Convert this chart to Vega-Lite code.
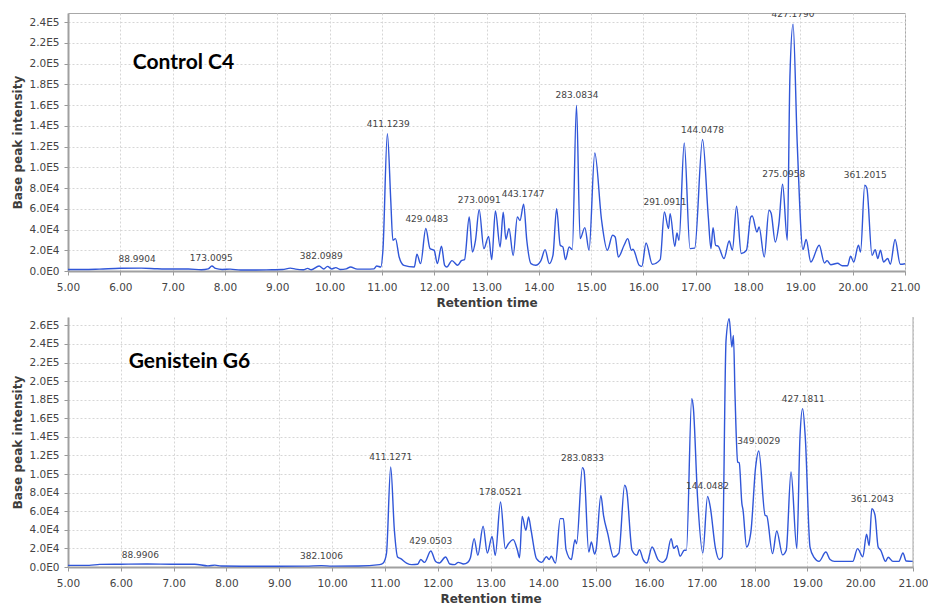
{
  "$schema": "https://vega.github.io/schema/vega-lite/v6.json",
  "background": "white",
  "padding": {"left": 11, "top": 12, "right": 5, "bottom": 2},
  "spacing": 6,
  "config": {
    "view": {"stroke": "#a8a8a8", "strokeWidth": 1},
    "axis": {
      "labelFont": "DejaVu Sans",
      "labelFontSize": 10.5,
      "labelColor": "#444444",
      "labelOverlap": false,
      "labelFlush": false,
      "titleFont": "DejaVu Sans",
      "titleFontSize": 12,
      "titleFontWeight": "bold",
      "titleColor": "#3d3d3d",
      "gridColor": "#d6d6d6",
      "gridDash": [2, 2],
      "gridWidth": 1,
      "domainColor": "#a0a0a0",
      "domainWidth": 2,
      "tickColor": "#999999",
      "tickSize": 4
    },
    "axisX": {"labelPadding": 7, "titlePadding": 5},
    "axisY": {"labelPadding": 5, "titlePadding": 4},
    "text": {"font": "DejaVu Sans"}
  },
  "datasets": {
    "control": [
      {"rt": 5.00, "intensity": 1500}, {"rt": 5.30, "intensity": 1400}, {"rt": 5.60, "intensity": 1800},
      {"rt": 6.00, "intensity": 2600}, {"rt": 6.40, "intensity": 2800}, {"rt": 6.70, "intensity": 2200},
      {"rt": 7.00, "intensity": 1900}, {"rt": 7.30, "intensity": 2000}, {"rt": 7.55, "intensity": 1200},
      {"rt": 7.68, "intensity": 2000}, {"rt": 7.75, "intensity": 4800}, {"rt": 7.82, "intensity": 2500},
      {"rt": 7.95, "intensity": 1500}, {"rt": 8.10, "intensity": 1800}, {"rt": 8.30, "intensity": 900},
      {"rt": 8.60, "intensity": 1000}, {"rt": 8.90, "intensity": 1200}, {"rt": 9.10, "intensity": 1400},
      {"rt": 9.25, "intensity": 2800}, {"rt": 9.35, "intensity": 1800}, {"rt": 9.50, "intensity": 1200},
      {"rt": 9.58, "intensity": 2500}, {"rt": 9.65, "intensity": 1200}, {"rt": 9.80, "intensity": 4800},
      {"rt": 9.89, "intensity": 2000}, {"rt": 9.96, "intensity": 4500}, {"rt": 10.04, "intensity": 2000},
      {"rt": 10.12, "intensity": 3300}, {"rt": 10.20, "intensity": 1500}, {"rt": 10.32, "intensity": 2000},
      {"rt": 10.40, "intensity": 3900}, {"rt": 10.53, "intensity": 1800}, {"rt": 10.70, "intensity": 1800},
      {"rt": 10.85, "intensity": 2000}, {"rt": 10.90, "intensity": 4800}, {"rt": 10.98, "intensity": 3900},
      {"rt": 11.02, "intensity": 20000}, {"rt": 11.105, "intensity": 132400}, {"rt": 11.17, "intensity": 68000},
      {"rt": 11.21, "intensity": 29600}, {"rt": 11.26, "intensity": 31200}, {"rt": 11.33, "intensity": 13500},
      {"rt": 11.42, "intensity": 5500}, {"rt": 11.62, "intensity": 3900}, {"rt": 11.67, "intensity": 16100},
      {"rt": 11.74, "intensity": 7100}, {"rt": 11.84, "intensity": 40900}, {"rt": 11.92, "intensity": 21600},
      {"rt": 12.00, "intensity": 19900}, {"rt": 12.06, "intensity": 7100}, {"rt": 12.14, "intensity": 23800},
      {"rt": 12.20, "intensity": 5500}, {"rt": 12.24, "intensity": 3900}, {"rt": 12.34, "intensity": 10000},
      {"rt": 12.45, "intensity": 5500}, {"rt": 12.52, "intensity": 10000}, {"rt": 12.58, "intensity": 11000},
      {"rt": 12.67, "intensity": 52000}, {"rt": 12.73, "intensity": 18300}, {"rt": 12.79, "intensity": 29600},
      {"rt": 12.86, "intensity": 59200}, {"rt": 12.95, "intensity": 21600}, {"rt": 13.04, "intensity": 33400},
      {"rt": 13.10, "intensity": 11000}, {"rt": 13.17, "intensity": 57800}, {"rt": 13.26, "intensity": 23200},
      {"rt": 13.32, "intensity": 56600}, {"rt": 13.37, "intensity": 30500}, {"rt": 13.43, "intensity": 41000},
      {"rt": 13.51, "intensity": 15000}, {"rt": 13.59, "intensity": 52000}, {"rt": 13.64, "intensity": 48700},
      {"rt": 13.71, "intensity": 64300}, {"rt": 13.77, "intensity": 29600}, {"rt": 13.85, "intensity": 7100},
      {"rt": 13.94, "intensity": 5500}, {"rt": 14.04, "intensity": 10000}, {"rt": 14.12, "intensity": 20600},
      {"rt": 14.20, "intensity": 7100}, {"rt": 14.27, "intensity": 15000}, {"rt": 14.34, "intensity": 60100},
      {"rt": 14.41, "intensity": 24800}, {"rt": 14.46, "intensity": 23200}, {"rt": 14.51, "intensity": 11000},
      {"rt": 14.58, "intensity": 23200}, {"rt": 14.64, "intensity": 20600}, {"rt": 14.72, "intensity": 159700},
      {"rt": 14.79, "intensity": 31200}, {"rt": 14.88, "intensity": 41800}, {"rt": 14.96, "intensity": 20000},
      {"rt": 15.07, "intensity": 113700}, {"rt": 15.20, "intensity": 48900}, {"rt": 15.31, "intensity": 20000},
      {"rt": 15.41, "intensity": 34400}, {"rt": 15.46, "intensity": 32800}, {"rt": 15.52, "intensity": 13500},
      {"rt": 15.63, "intensity": 24800}, {"rt": 15.70, "intensity": 31200}, {"rt": 15.77, "intensity": 20000},
      {"rt": 15.80, "intensity": 21000}, {"rt": 15.92, "intensity": 5500}, {"rt": 15.97, "intensity": 4500},
      {"rt": 16.05, "intensity": 27000}, {"rt": 16.17, "intensity": 6500}, {"rt": 16.32, "intensity": 11000},
      {"rt": 16.40, "intensity": 56900}, {"rt": 16.48, "intensity": 40900}, {"rt": 16.51, "intensity": 55300},
      {"rt": 16.60, "intensity": 23800}, {"rt": 16.64, "intensity": 36600}, {"rt": 16.68, "intensity": 29600},
      {"rt": 16.78, "intensity": 123400}, {"rt": 16.89, "intensity": 21600}, {"rt": 16.98, "intensity": 22000},
      {"rt": 17.13, "intensity": 126700}, {"rt": 17.24, "intensity": 52000}, {"rt": 17.29, "intensity": 21600},
      {"rt": 17.33, "intensity": 41800}, {"rt": 17.38, "intensity": 24800}, {"rt": 17.43, "intensity": 23800},
      {"rt": 17.54, "intensity": 12000}, {"rt": 17.64, "intensity": 28900}, {"rt": 17.70, "intensity": 20000},
      {"rt": 17.78, "intensity": 62400}, {"rt": 17.87, "intensity": 16800}, {"rt": 17.97, "intensity": 20000},
      {"rt": 18.05, "intensity": 52000}, {"rt": 18.08, "intensity": 53000}, {"rt": 18.17, "intensity": 37600},
      {"rt": 18.21, "intensity": 42500}, {"rt": 18.31, "intensity": 13500}, {"rt": 18.40, "intensity": 58500},
      {"rt": 18.44, "intensity": 56000}, {"rt": 18.52, "intensity": 28000}, {"rt": 18.59, "intensity": 45700},
      {"rt": 18.66, "intensity": 83600}, {"rt": 18.75, "intensity": 29600}, {"rt": 18.80, "intensity": 187000},
      {"rt": 18.86, "intensity": 237800}, {"rt": 18.94, "intensity": 122800}, {"rt": 19.05, "intensity": 20600},
      {"rt": 19.11, "intensity": 30300}, {"rt": 19.20, "intensity": 8700}, {"rt": 19.36, "intensity": 24800},
      {"rt": 19.46, "intensity": 7700}, {"rt": 19.51, "intensity": 10000}, {"rt": 19.58, "intensity": 6000},
      {"rt": 19.71, "intensity": 7500}, {"rt": 19.80, "intensity": 5000}, {"rt": 19.90, "intensity": 5000},
      {"rt": 19.96, "intensity": 14200}, {"rt": 20.02, "intensity": 8700}, {"rt": 20.11, "intensity": 24800},
      {"rt": 20.15, "intensity": 18300}, {"rt": 20.23, "intensity": 82600}, {"rt": 20.27, "intensity": 80000},
      {"rt": 20.37, "intensity": 15100}, {"rt": 20.43, "intensity": 20600}, {"rt": 20.48, "intensity": 12000},
      {"rt": 20.53, "intensity": 20000}, {"rt": 20.59, "intensity": 8700}, {"rt": 20.67, "intensity": 12000},
      {"rt": 20.72, "intensity": 6500}, {"rt": 20.81, "intensity": 30300}, {"rt": 20.91, "intensity": 6500},
      {"rt": 21.00, "intensity": 7000}
    ],
    "controlPeaks": [
      {"rt": 6.32, "intensity": 2300, "mz": "88.9904"},
      {"rt": 7.74, "intensity": 3300, "mz": "173.0095"},
      {"rt": 9.84, "intensity": 4500, "mz": "382.0989"},
      {"rt": 11.12, "intensity": 132400, "mz": "411.1239"},
      {"rt": 11.86, "intensity": 40900, "mz": "429.0483"},
      {"rt": 12.86, "intensity": 59200, "mz": "273.0091"},
      {"rt": 13.70, "intensity": 64300, "mz": "443.1747"},
      {"rt": 14.73, "intensity": 159700, "mz": "283.0834"},
      {"rt": 16.41, "intensity": 56900, "mz": "291.0911"},
      {"rt": 17.13, "intensity": 126700, "mz": "144.0478"},
      {"rt": 18.68, "intensity": 83600, "mz": "275.0958"},
      {"rt": 18.86, "intensity": 237800, "mz": "427.1790"},
      {"rt": 20.24, "intensity": 82600, "mz": "361.2015"}
    ],
    "genistein": [
      {"rt": 5.00, "intensity": 1800}, {"rt": 5.40, "intensity": 1800}, {"rt": 5.60, "intensity": 2800},
      {"rt": 6.00, "intensity": 3000}, {"rt": 6.50, "intensity": 3200}, {"rt": 7.00, "intensity": 2900},
      {"rt": 7.40, "intensity": 3000}, {"rt": 7.65, "intensity": 1200}, {"rt": 7.78, "intensity": 2000},
      {"rt": 7.90, "intensity": 1000}, {"rt": 8.50, "intensity": 800}, {"rt": 9.00, "intensity": 800},
      {"rt": 9.50, "intensity": 900}, {"rt": 9.80, "intensity": 1500}, {"rt": 10.00, "intensity": 900},
      {"rt": 10.50, "intensity": 1000}, {"rt": 10.90, "intensity": 2500}, {"rt": 10.97, "intensity": 4300},
      {"rt": 11.03, "intensity": 14400}, {"rt": 11.11, "intensity": 107600}, {"rt": 11.18, "intensity": 39500},
      {"rt": 11.24, "intensity": 10800}, {"rt": 11.30, "intensity": 9000}, {"rt": 11.41, "intensity": 4300},
      {"rt": 11.51, "intensity": 2600}, {"rt": 11.62, "intensity": 3000}, {"rt": 11.68, "intensity": 8000},
      {"rt": 11.75, "intensity": 5000}, {"rt": 11.87, "intensity": 17200}, {"rt": 11.96, "intensity": 6000},
      {"rt": 12.03, "intensity": 4300}, {"rt": 12.15, "intensity": 10800}, {"rt": 12.23, "intensity": 3200},
      {"rt": 12.32, "intensity": 2600}, {"rt": 12.39, "intensity": 5000}, {"rt": 12.49, "intensity": 3200},
      {"rt": 12.57, "intensity": 5000}, {"rt": 12.62, "intensity": 10000}, {"rt": 12.69, "intensity": 30500},
      {"rt": 12.76, "intensity": 12600}, {"rt": 12.86, "intensity": 43800}, {"rt": 12.94, "intensity": 15000},
      {"rt": 13.03, "intensity": 33000}, {"rt": 13.09, "intensity": 12600}, {"rt": 13.19, "intensity": 70000},
      {"rt": 13.28, "intensity": 19800}, {"rt": 13.34, "intensity": 25000}, {"rt": 13.43, "intensity": 29500},
      {"rt": 13.51, "intensity": 18000}, {"rt": 13.55, "intensity": 10000}, {"rt": 13.60, "intensity": 54500},
      {"rt": 13.67, "intensity": 39500}, {"rt": 13.72, "intensity": 53800}, {"rt": 13.77, "intensity": 39000},
      {"rt": 13.87, "intensity": 9000}, {"rt": 13.97, "intensity": 5000}, {"rt": 14.06, "intensity": 11000},
      {"rt": 14.11, "intensity": 8000}, {"rt": 14.15, "intensity": 11500}, {"rt": 14.23, "intensity": 4300},
      {"rt": 14.32, "intensity": 52000}, {"rt": 14.38, "intensity": 52000}, {"rt": 14.43, "intensity": 18700},
      {"rt": 14.53, "intensity": 8000}, {"rt": 14.60, "intensity": 29500}, {"rt": 14.63, "intensity": 25000},
      {"rt": 14.74, "intensity": 106900}, {"rt": 14.77, "intensity": 104000}, {"rt": 14.86, "intensity": 16100},
      {"rt": 14.91, "intensity": 26900}, {"rt": 14.97, "intensity": 14000}, {"rt": 15.00, "intensity": 19000},
      {"rt": 15.09, "intensity": 77100}, {"rt": 15.14, "intensity": 55600}, {"rt": 15.22, "intensity": 36000},
      {"rt": 15.33, "intensity": 10800}, {"rt": 15.43, "intensity": 15000}, {"rt": 15.54, "intensity": 87900},
      {"rt": 15.58, "intensity": 82000}, {"rt": 15.68, "intensity": 18000}, {"rt": 15.77, "intensity": 12600},
      {"rt": 15.82, "intensity": 18700}, {"rt": 15.89, "intensity": 8000}, {"rt": 15.96, "intensity": 4300},
      {"rt": 16.06, "intensity": 21500}, {"rt": 16.17, "intensity": 8000}, {"rt": 16.25, "intensity": 5000},
      {"rt": 16.33, "intensity": 9000}, {"rt": 16.42, "intensity": 30500}, {"rt": 16.47, "intensity": 20000},
      {"rt": 16.53, "intensity": 23000}, {"rt": 16.59, "intensity": 11500}, {"rt": 16.67, "intensity": 18000},
      {"rt": 16.71, "intensity": 18000}, {"rt": 16.81, "intensity": 181000}, {"rt": 16.84, "intensity": 172000},
      {"rt": 16.92, "intensity": 75300}, {"rt": 17.02, "intensity": 15100}, {"rt": 17.11, "intensity": 76000},
      {"rt": 17.16, "intensity": 65000}, {"rt": 17.26, "intensity": 20000}, {"rt": 17.33, "intensity": 8000},
      {"rt": 17.39, "intensity": 11000}, {"rt": 17.46, "intensity": 243900}, {"rt": 17.52, "intensity": 267200},
      {"rt": 17.57, "intensity": 236700}, {"rt": 17.60, "intensity": 249200}, {"rt": 17.63, "intensity": 184700},
      {"rt": 17.68, "intensity": 113000}, {"rt": 17.71, "intensity": 112000}, {"rt": 17.76, "intensity": 68200},
      {"rt": 17.78, "intensity": 62000}, {"rt": 17.85, "intensity": 21500}, {"rt": 17.93, "intensity": 37600},
      {"rt": 18.02, "intensity": 107600}, {"rt": 18.08, "intensity": 124800}, {"rt": 18.20, "intensity": 55600},
      {"rt": 18.23, "intensity": 55000}, {"rt": 18.34, "intensity": 14400}, {"rt": 18.42, "intensity": 38700},
      {"rt": 18.53, "intensity": 13000}, {"rt": 18.60, "intensity": 18000}, {"rt": 18.69, "intensity": 102200},
      {"rt": 18.80, "intensity": 19800}, {"rt": 18.86, "intensity": 139800}, {"rt": 18.91, "intensity": 170400},
      {"rt": 18.96, "intensity": 140000}, {"rt": 19.05, "intensity": 21500}, {"rt": 19.13, "intensity": 10000},
      {"rt": 19.22, "intensity": 6000}, {"rt": 19.35, "intensity": 16100}, {"rt": 19.43, "intensity": 8000},
      {"rt": 19.51, "intensity": 6000}, {"rt": 19.73, "intensity": 6000}, {"rt": 19.86, "intensity": 6000},
      {"rt": 19.95, "intensity": 19800}, {"rt": 20.05, "intensity": 11000}, {"rt": 20.12, "intensity": 35200},
      {"rt": 20.17, "intensity": 23000}, {"rt": 20.22, "intensity": 62800}, {"rt": 20.28, "intensity": 56000},
      {"rt": 20.34, "intensity": 21500}, {"rt": 20.39, "intensity": 18000}, {"rt": 20.48, "intensity": 6000},
      {"rt": 20.53, "intensity": 10500}, {"rt": 20.62, "intensity": 6000}, {"rt": 20.73, "intensity": 6000},
      {"rt": 20.81, "intensity": 15100}, {"rt": 20.87, "intensity": 6500}, {"rt": 21.00, "intensity": 6000}
    ],
    "genisteinPeaks": [
      {"rt": 6.37, "intensity": 1800, "mz": "88.9906"},
      {"rt": 9.80, "intensity": 900, "mz": "382.1006"},
      {"rt": 11.11, "intensity": 107600, "mz": "411.1271"},
      {"rt": 11.87, "intensity": 17200, "mz": "429.0503"},
      {"rt": 13.19, "intensity": 70000, "mz": "178.0521"},
      {"rt": 14.74, "intensity": 106900, "mz": "283.0833"},
      {"rt": 17.11, "intensity": 76000, "mz": "144.0482"},
      {"rt": 18.08, "intensity": 124800, "mz": "349.0029"},
      {"rt": 18.92, "intensity": 170400, "mz": "427.1811"},
      {"rt": 20.23, "intensity": 62800, "mz": "361.2043"}
    ]
  },
  "vconcat": [
    {
      "width": 837,
      "height": 258,
      "layer": [
        {
          "data": {"name": "control"},
          "mark": {"type": "line", "color": "#3056d8", "strokeWidth": 1.4, "interpolate": "monotone"},
          "encoding": {
            "x": {
              "field": "rt", "type": "quantitative",
              "scale": {"domain": [5, 21], "nice": false, "zero": false},
              "axis": {"values": [5, 6, 7, 8, 9, 10, 11, 12, 13, 14, 15, 16, 17, 18, 19, 20, 21], "tickCount": 30, "format": ".2f", "labelOverlap": false, "labelFlush": false, "title": "Retention time"}
            },
            "y": {
              "field": "intensity", "type": "quantitative",
              "scale": {"domain": [0, 248700], "nice": false},
              "axis": {
                "values": [0, 20000, 40000, 60000, 80000, 100000, 120000, 140000, 160000, 180000, 200000, 220000, 240000],
                "tickCount": 30,
                "labelExpr": "replace(format(datum.value, '.1e'), 'e+', 'E')",
                "labelOverlap": false,
                "title": "Base peak intensity"
              }
            }
          }
        },
        {
          "data": {"name": "controlPeaks"},
          "mark": {"type": "text", "fontSize": 9, "color": "#444444", "baseline": "middle", "dy": -10, "clip": true},
          "encoding": {
            "x": {"field": "rt", "type": "quantitative"},
            "y": {"field": "intensity", "type": "quantitative"},
            "text": {"field": "mz"}
          }
        },
        {
          "data": {"values": [{}]},
          "mark": {"type": "text", "text": "Control C4", "font": "Lato", "fontWeight": "bold", "fontSize": 21, "color": "#000000", "align": "left", "baseline": "middle"},
          "encoding": {
            "x": {"datum": 6.24, "type": "quantitative"},
            "y": {"datum": 200700, "type": "quantitative"}
          }
        }
      ]
    },
    {
      "width": 845,
      "height": 250,
      "view": {"stroke": null},
      "layer": [
        {
          "data": {"name": "genistein"},
          "mark": {"type": "line", "color": "#3056d8", "strokeWidth": 1.4, "interpolate": "monotone"},
          "encoding": {
            "x": {
              "field": "rt", "type": "quantitative",
              "scale": {"domain": [5, 21], "nice": false, "zero": false},
              "axis": {"values": [5, 6, 7, 8, 9, 10, 11, 12, 13, 14, 15, 16, 17, 18, 19, 20, 21], "tickCount": 30, "format": ".2f", "labelOverlap": false, "labelFlush": false, "title": "Retention time"}
            },
            "y": {
              "field": "intensity", "type": "quantitative",
              "scale": {"domain": [0, 269000], "nice": false},
              "axis": {
                "values": [0, 20000, 40000, 60000, 80000, 100000, 120000, 140000, 160000, 180000, 200000, 220000, 240000, 260000],
                "tickCount": 30,
                "labelExpr": "replace(format(datum.value, '.1e'), 'e+', 'E')",
                "labelOverlap": false,
                "title": "Base peak intensity"
              }
            }
          }
        },
        {
          "data": {"name": "genisteinPeaks"},
          "mark": {"type": "text", "fontSize": 9, "color": "#444444", "baseline": "middle", "dy": -10, "clip": true},
          "encoding": {
            "x": {"field": "rt", "type": "quantitative"},
            "y": {"field": "intensity", "type": "quantitative"},
            "text": {"field": "mz"}
          }
        },
        {
          "data": {"values": [{}]},
          "mark": {"type": "text", "text": "Genistein G6", "font": "Lato", "fontWeight": "bold", "fontSize": 21, "color": "#000000", "align": "left", "baseline": "middle"},
          "encoding": {
            "x": {"datum": 6.15, "type": "quantitative"},
            "y": {"datum": 220500, "type": "quantitative"}
          }
        },
        {
          "data": {"values": [{}]},
          "mark": {"type": "rule", "color": "#a8a8a8", "strokeWidth": 1},
          "encoding": {
            "x": {"datum": 21, "type": "quantitative"}
          }
        }
      ]
    }
  ]
}
